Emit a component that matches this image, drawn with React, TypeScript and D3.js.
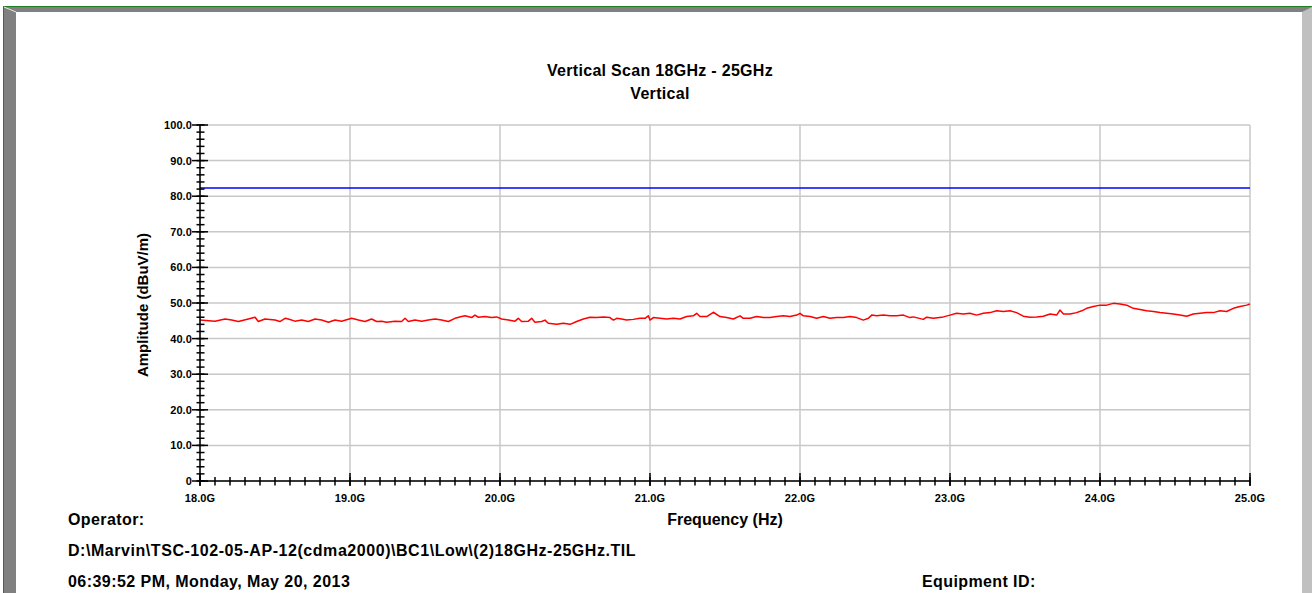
import React from "react";
import * as d3 from "d3";

const title = "Vertical Scan 18GHz - 25GHz";
const subtitle = "Vertical";
const xLabel = "Frequency (Hz)";
const yLabel = "Amplitude (dBuV/m)";
const xTicks = [18, 19, 20, 21, 22, 23, 24, 25];
const yTicks = [0, 10, 20, 30, 40, 50, 60, 70, 80, 90, 100];
const limitValue = 82.3;

const freqGHz = [
  18.0, 18.1, 18.167, 18.211, 18.256, 18.322, 18.367, 18.389, 18.433, 18.5,
  18.533, 18.567, 18.589, 18.633, 18.678, 18.722, 18.767, 18.811, 18.856, 18.9,
  18.944, 19.011, 19.056, 19.1, 19.144, 19.178, 19.211, 19.244, 19.3, 19.344,
  19.367, 19.389, 19.433, 19.478, 19.522, 19.567, 19.611, 19.656, 19.7, 19.744,
  19.767, 19.811, 19.833, 19.856, 19.9, 19.944, 19.978, 20.011, 20.056, 20.1,
  20.122, 20.144, 20.189, 20.211, 20.233, 20.278, 20.3, 20.322, 20.378, 20.422,
  20.467, 20.511, 20.556, 20.6, 20.644, 20.689, 20.733, 20.756, 20.778, 20.811,
  20.844, 20.889, 20.933, 20.967, 20.989, 21.0, 21.022, 21.067, 21.111, 21.156,
  21.2, 21.244, 21.289, 21.311, 21.333, 21.378, 21.422, 21.467, 21.511, 21.556,
  21.6, 21.622, 21.667, 21.711, 21.756, 21.8, 21.844, 21.889, 21.933, 21.978,
  22.0, 22.022, 22.067, 22.111, 22.156, 22.2, 22.244, 22.289, 22.333, 22.378,
  22.422, 22.456, 22.478, 22.511, 22.556, 22.6, 22.644, 22.689, 22.733, 22.756,
  22.822, 22.844, 22.889, 22.956, 23.0, 23.044, 23.089, 23.133, 23.178, 23.222,
  23.267, 23.311, 23.356, 23.4, 23.444, 23.489, 23.533, 23.578, 23.622, 23.667,
  23.711, 23.733, 23.756, 23.8, 23.844, 23.878, 23.911, 23.956, 24.0, 24.044,
  24.089, 24.133, 24.178, 24.222, 24.267, 24.311, 24.356, 24.4, 24.444, 24.489,
  24.533, 24.578, 24.622, 24.667, 24.711, 24.756, 24.8, 24.844, 24.889, 24.933,
  24.978, 25.0,
];

const amplitude = [
  45.2, 44.9, 45.5, 45.2, 44.8, 45.5, 46.0, 44.8, 45.5, 45.2,
  44.8, 45.7, 45.5, 44.9, 45.2, 44.8, 45.5, 45.2, 44.6, 45.2,
  44.9, 45.7, 45.2, 44.8, 45.5, 44.8, 44.9, 44.6, 44.9, 44.8,
  45.7, 44.8, 45.2, 44.9, 45.2, 45.5, 45.2, 44.8, 45.7, 46.2,
  46.4, 45.9, 46.6, 46.0, 46.2, 45.9, 46.1, 45.5, 45.2, 44.9,
  45.7, 44.8, 44.9, 45.7, 44.6, 44.8, 45.2, 44.3, 44.0, 44.3,
  44.0, 44.8, 45.5, 46.0, 45.9, 46.1, 45.9, 45.2, 45.7, 45.5,
  45.2, 45.4, 45.7, 45.7, 46.4, 45.2, 45.9, 45.7, 45.5, 45.7,
  45.5, 46.2, 46.4, 47.1, 46.2, 46.2, 47.4, 46.2, 45.9, 45.5,
  46.4, 45.7, 45.7, 46.2, 45.9, 45.9, 46.2, 46.4, 46.2, 46.6,
  47.1, 46.4, 46.2, 45.7, 46.2, 45.7, 45.9, 45.9, 46.2, 45.9,
  45.2, 45.7, 46.6, 46.4, 46.6, 46.4, 46.4, 46.6, 45.9, 46.1,
  45.4, 46.0, 45.7, 46.1, 46.6, 47.1, 46.9, 47.1, 46.6, 47.1,
  47.3, 47.8, 47.6, 47.8, 47.3, 46.3, 46.0, 46.1, 46.3, 46.9,
  46.6, 48.0, 46.9, 46.9, 47.3, 47.8, 48.5, 49.0, 49.4, 49.4,
  49.9, 49.7, 49.4, 48.5, 48.2, 47.8, 47.6, 47.3, 47.1, 46.9,
  46.6, 46.3, 46.9, 47.1, 47.3, 47.3, 47.8, 47.6, 48.5, 49.0,
  49.4, 49.7,
];

const footerOperator = "Operator:";
const footerPath = "D:\\Marvin\\TSC-102-05-AP-12(cdma2000)\\BC1\\Low\\(2)18GHz-25GHz.TIL";
const footerDate = "06:39:52 PM, Monday, May 20, 2013";
const footerEquipment = "Equipment ID:";

export default function App() {
  const W = 1312;
  const H = 593;
  const x = d3.scaleLinear().domain([18, 25]).range([200, 1250]);
  const y = d3.scaleLinear().domain([0, 100]).range([481, 125]);

  const data = freqGHz.map((f, i) => [f, amplitude[i]] as [number, number]);
  const line = d3
    .line<[number, number]>()
    .x((d) => x(d[0]))
    .y((d) => y(d[1]));

  const xMinor = d3.range(180, 251).map((v) => v / 10);
  const yMinor = d3.range(0, 51).map((v) => v * 2);

  const font = "'Liberation Sans', Arial, sans-serif";
  const grid = "#c8c8c8";

  return (
    <svg
      width={W}
      height={H}
      style={{ position: "absolute", left: 0, top: 0, background: "#fff" }}
      fontFamily={font}
    >
      <rect x={0} y={0} width={W} height={H} fill="#fff" />
      {/* frame */}
      <rect x={3} y={6} width={W - 3} height={1} fill="#208020" />
      <rect x={3} y={6} width={1} height={H - 6} fill="#208020" />
      <polygon points={`4,7 ${W - 10},7 ${W - 10},12 16,12 16,${H} 4,${H}`} fill="#808080" />
      <polygon points={`${W - 10},7 ${W},7 ${W},${H} ${W - 10},${H}`} fill="#c0c0c0" />
      <polygon points={`${W - 10},7 ${W},7 ${W - 10},12`} fill="#808080" />
      <line x1={4} y1={7} x2={16} y2={12} stroke="#e8e8e8" strokeWidth={1} />

      {/* titles */}
      <text x={660} y={76} textAnchor="middle" fontSize={16} fontWeight="bold" letterSpacing={0.3}>
        {title}
      </text>
      <text x={660} y={99} textAnchor="middle" fontSize={16} fontWeight="bold" letterSpacing={0.3}>
        {subtitle}
      </text>

      {/* grid */}
      {yTicks.map((t) => (
        <line key={"gy" + t} x1={x(18)} x2={x(25)} y1={y(t)} y2={y(t)} stroke={grid} strokeWidth={1.5} />
      ))}
      {xTicks.map((t) => (
        <line key={"gx" + t} x1={x(t)} x2={x(t)} y1={y(100)} y2={y(0)} stroke={grid} strokeWidth={1.5} />
      ))}

      {/* limit line */}
      <line x1={x(18)} x2={x(25)} y1={y(limitValue)} y2={y(limitValue)} stroke="#0000ff" strokeWidth={1.5} />

      {/* data */}
      <path d={line(data) || ""} fill="none" stroke="#ff0000" strokeWidth={1.5} strokeLinejoin="round" />

      {/* axes */}
      <line x1={x(18)} x2={x(18)} y1={y(100)} y2={y(0)} stroke="#000" strokeWidth={1.5} />
      <line x1={x(18)} x2={x(25)} y1={y(0)} y2={y(0)} stroke="#000" strokeWidth={1.5} />
      {yMinor.map((t) => (
        <line key={"ym" + t} x1={196.5} x2={204.5} y1={y(t)} y2={y(t)} stroke="#000" strokeWidth={1.5} />
      ))}
      {yTicks.map((t) => (
        <line key={"yM" + t} x1={192} x2={208} y1={y(t)} y2={y(t)} stroke="#000" strokeWidth={1.5} />
      ))}
      {xMinor.map((t) => (
        <line key={"xm" + t} x1={x(t)} x2={x(t)} y1={477} y2={485.5} stroke="#000" strokeWidth={1.5} />
      ))}
      {xTicks.map((t) => (
        <line key={"xM" + t} x1={x(t)} x2={x(t)} y1={473} y2={486} stroke="#000" strokeWidth={1.5} />
      ))}

      {/* tick labels */}
      {yTicks.map((t) => (
        <text key={"yl" + t} x={192} y={y(t) + 4} textAnchor="end" fontSize={11} fontWeight="bold" letterSpacing={0.1}>
          {t === 0 ? "0" : t.toFixed(1)}
        </text>
      ))}
      {xTicks.map((t) => (
        <text key={"xl" + t} x={x(t)} y={501.5} textAnchor="middle" fontSize={11} fontWeight="bold" letterSpacing={0.1}>
          {t.toFixed(1) + "G"}
        </text>
      ))}

      {/* axis titles */}
      <text x={725} y={525} textAnchor="middle" fontSize={16} fontWeight="bold">
        {xLabel}
      </text>
      <text
        transform={`translate(147.5,305) rotate(-90)`}
        textAnchor="middle"
        fontSize={15}
        fontWeight="bold"
      >
        {yLabel}
      </text>

      {/* footer */}
      <text x={68} y={525} fontSize={16} fontWeight="bold" letterSpacing={0.4}>
        {footerOperator}
      </text>
      <text x={68} y={556} fontSize={16} fontWeight="bold" letterSpacing={0.55}>
        {footerPath}
      </text>
      <text x={68} y={587} fontSize={16} fontWeight="bold" letterSpacing={0.45}>
        {footerDate}
      </text>
      <text x={922} y={587} fontSize={16} fontWeight="bold" letterSpacing={0.4}>
        {footerEquipment}
      </text>
    </svg>
  );
}
